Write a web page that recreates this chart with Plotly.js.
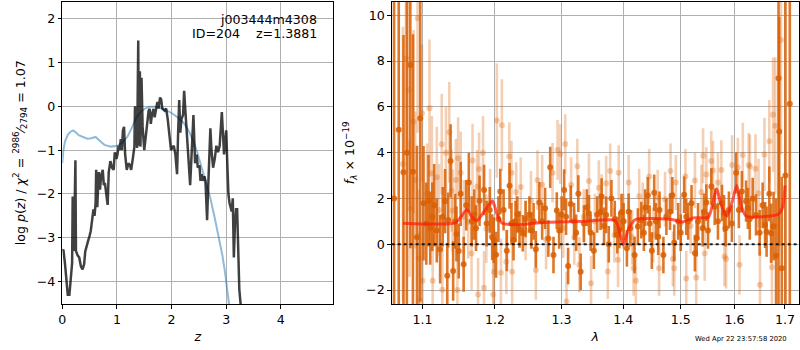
<!DOCTYPE html>
<html>
<head>
<meta charset="utf-8">
<script src="https://cdn.plot.ly/plotly-3.0.1.min.js"></script>
<style>html,body{margin:0;padding:0;background:#fff;}#chart{width:800px;height:350px;}</style>
</head>
<body>
<div id="chart"></div>
<script>
// ---------- Left panel: log p(z) ----------
const pzZ = [0.00,0.02,0.05,0.08,0.10,0.13,0.16,0.18,0.19,0.20,0.21,0.22,0.23,0.24,0.25,0.28,0.31,0.34,0.37,0.40,0.42,0.45,0.47,0.50,0.52,0.55,0.57,0.59,0.61,0.62,0.64,0.66,0.67,0.69,0.71,0.74,0.76,0.78,0.80,0.83,0.85,0.88,0.91,0.94,0.96,0.99,1.01,1.03,1.05,1.07,1.09,1.11,1.13,1.15,1.18,1.21,1.24,1.26,1.29,1.32,1.33,1.35,1.37,1.39,1.40,1.42,1.43,1.45,1.47,1.50,1.53,1.56,1.58,1.60,1.62,1.64,1.67,1.69,1.72,1.74,1.76,1.78,1.79,1.81,1.83,1.87,1.90,1.93,1.96,1.99,2.01,2.04,2.07,2.10,2.12,2.14,2.16,2.18,2.21,2.23,2.25,2.28,2.30,2.34,2.37,2.40,2.43,2.46,2.48,2.51,2.53,2.55,2.57,2.60,2.62,2.65,2.67,2.69,2.71,2.73,2.76,2.79,2.82,2.85,2.88,2.92,2.94,2.96,2.98,3.00,3.02,3.04,3.06,3.08,3.10,3.12,3.14,3.16,3.18,3.20,3.22,3.24,3.27,3.30];
const pzLog = [-3.3,-3.27,-3.6,-4.1,-4.3,-4.3,-3.9,-3.57,-2.06,-2.9,-2.2,-3.3,-2.0,-1.23,-3.3,-3.4,-3.45,-3.65,-3.72,-3.6,-3.31,-3.2,-3.08,-2.95,-2.85,-2.55,-2.35,-2.5,-2.2,-1.45,-2.3,-1.7,-1.5,-1.9,-1.6,-1.45,-1.8,-1.75,-1.95,-2.25,-1.5,-1.25,-1.4,-1.45,-1.05,-1.2,-1.1,-0.9,-1.0,-0.75,-1.0,-0.55,-0.47,-1.1,-1.45,-1.3,-1.35,-1.45,-1.2,-0.92,0.0,-0.6,-0.95,1.5,-0.9,0.8,-0.92,0.65,-0.47,-1.0,-0.6,-0.3,-0.1,-0.06,-0.4,-0.2,-0.06,-0.25,-0.05,0.1,-0.05,0.08,0.2,0.15,-0.05,-0.1,-0.05,-0.3,-0.7,-1.0,-0.95,-0.9,-1.1,-1.55,-0.6,0.14,-0.6,-0.3,-0.2,0.35,-0.05,-0.7,-1.2,-1.8,-1.0,-0.2,-1.3,-1.1,-1.4,-1.35,-1.7,-1.55,-1.7,-1.6,-1.7,-2.6,-1.85,-1.2,-0.5,-1.0,-1.4,-1.2,-0.9,-1.05,-0.9,-0.13,-0.8,-1.1,-0.8,-0.55,-1.3,-2.0,-2.2,-2.3,-2.4,-2.1,-3.45,-2.7,-2.35,-2.35,-3.2,-4.18,-4.6,-5.0];
const priorZ = [0.00,0.02,0.05,0.10,0.15,0.20,0.25,0.30,0.38,0.46,0.53,0.61,0.68,0.77,0.89,1.01,1.10,1.19,1.27,1.34,1.40,1.46,1.53,1.60,1.70,1.80,1.90,2.02,2.12,2.23,2.31,2.39,2.47,2.55,2.63,2.71,2.79,2.87,2.93,2.98,3.06,3.12];
const priorLog = [-1.3,-1.0,-0.8,-0.65,-0.58,-0.55,-0.6,-0.66,-0.7,-0.74,-0.73,-0.7,-0.78,-0.88,-0.92,-0.9,-0.82,-0.7,-0.5,-0.3,-0.18,-0.1,-0.04,-0.01,-0.01,-0.04,-0.09,-0.17,-0.26,-0.39,-0.55,-0.77,-1.05,-1.4,-1.75,-2.1,-2.55,-3.0,-3.4,-3.8,-4.6,-5.2];

// ---------- Right panel: spectrum ----------
const darkLam = [1.063,1.069,1.0751,1.0795,1.0840,1.0874,1.0927,1.0970,1.1013,1.1050,1.1079,1.1102,1.1130,1.1155,1.1190,1.1235,1.1270,1.1302,1.1332,1.1345,1.1377,1.1412,1.1440,1.1458,1.1489,1.1516,1.1557,1.1593,1.1629,1.1670,1.1706,1.1730,1.1780,1.1844,1.1880,1.1925,1.1960,1.1983,1.2016,1.2050,1.2077,1.2125,1.2172,1.2212,1.2240,1.2270,1.2300,1.2327,1.2359,1.2408,1.2450,1.2507,1.2537,1.2570,1.2604,1.2657,1.2700,1.2745,1.2795,1.2823,1.2874,1.2925,1.2962,1.3000,1.3040,1.3070,1.3102,1.3143,1.3196,1.3230,1.3264,1.3301,1.3354,1.3400,1.3434,1.3462,1.3514,1.3568,1.3623,1.3640,1.3680,1.3715,1.3758,1.3802,1.3857,1.3900,1.3934,1.3970,1.4005,1.4061,1.4090,1.4118,1.4191,1.4247,1.4305,1.4350,1.4373,1.4418,1.4450,1.4488,1.4530,1.4560,1.4600,1.4623,1.4691,1.4744,1.4808,1.4850,1.4884,1.4955,1.5000,1.5062,1.5100,1.5135,1.5196,1.5258,1.5290,1.5316,1.5400,1.5426,1.5469,1.5500,1.5562,1.5625,1.5686,1.5762,1.5800,1.5832,1.5894,1.5951,1.6033,1.6085,1.6143,1.6225,1.6260,1.6297,1.6355,1.6420,1.6492,1.6551,1.6600,1.6630,1.6684,1.6720,1.6770,1.6820,1.6870,1.6884,1.6936,1.7011,1.7100];
const darkFlux = [2.0,5.0,3.14,4.0,7.83,3.17,0.3,5.5,1.79,0.9,1.9,0.7,1.2,1.7,0.6,-0.22,1.2,1.88,-1.38,1.06,3.64,-1.17,1.0,0.45,-0.3,2.2,-0.87,1.7,2.7,1.0,1.3,0.7,1.9,2.37,0.9,1.5,0.31,0.18,-0.46,1.1,2.3,1.5,-0.28,2.55,0.9,0.19,1.0,1.3,0.65,0.48,1.1,1.3,0.6,1.0,-0.22,1.82,1.0,1.57,0.25,3.36,-0.47,1.47,0.6,1.3,2.37,1.2,-0.95,1.76,1.0,0.5,2.21,-1.2,0.9,1.6,1.35,0.5,-0.28,1.3,1.42,2.08,0.8,1.28,0.0,2.0,1.1,0.4,0.62,1.4,1.0,-0.18,1.42,0.7,-0.47,0.77,1.05,0.5,1.6,2.14,0.9,-0.28,2.25,1.0,0.33,1.5,-0.47,1.2,1.42,2.14,0.06,1.0,0.5,2.16,1.2,1.0,1.79,-0.39,0.26,1.0,0.7,1.42,1.82,0.6,2.52,1.64,1.0,1.8,1.35,0.7,1.5,0.9,3.12,1.5,2.3,1.88,1.57,1.1,2.0,1.28,0.5,1.7,0.84,0.55,2.2,0.48,0.79,-0.5,7.25,4.92,-1.05,3.0,6.13];
const darkErr = [15,12,6,9,8,6,4,8,2.5,1.8,2.0,1.6,1.5,1.8,1.4,1.5,1.3,1.4,1.4,1.2,1.6,1.3,1.2,1.2,1.2,1.4,1.2,1.1,1.3,1.1,1.1,1.0,1.1,1.1,1.0,1.0,1.0,1.0,1.0,1.0,1.0,0.9,0.9,1.0,0.9,0.9,0.9,0.8,0.8,0.8,0.8,0.8,0.8,0.8,0.8,0.9,0.8,0.9,0.8,0.9,0.8,0.8,0.8,0.8,0.9,0.8,0.8,0.8,0.8,0.8,0.8,0.8,0.8,0.8,0.8,0.8,0.8,0.8,0.8,0.8,0.8,0.8,0.8,0.8,0.8,0.8,0.8,0.8,0.8,0.8,0.8,0.8,0.8,0.8,0.8,0.8,0.8,0.8,0.8,0.8,0.8,0.8,0.8,0.8,0.8,0.8,0.8,0.8,0.8,0.8,0.8,0.8,0.8,0.8,0.8,0.8,0.8,0.8,0.8,0.8,0.8,0.8,0.8,0.8,0.8,0.8,0.8,0.8,0.8,0.8,0.9,0.8,0.9,0.9,0.9,0.9,0.9,0.9,1.0,1.0,1.0,1.1,1.2,1.3,1.5,2.5,12,5,4,12,12];

const lightLam = [1.0744,1.0783,1.0818,1.0830,1.0883,1.0905,1.0935,1.0948,1.0961,1.0992,1.1000,1.1060,1.1092,1.1124,1.1135,1.1190,1.1220,1.1257,1.1265,1.1314,1.1359,1.1391,1.1404,1.1449,1.1470,1.1480,1.1516,1.1560,1.1621,1.1667,1.1681,1.1745,1.1759,1.1773,1.1829,1.1843,1.1876,1.1930,1.1975,1.1984,1.2027,1.2086,1.2100,1.2165,1.2208,1.2240,1.2250,1.2310,1.2378,1.2450,1.2530,1.2604,1.2629,1.2700,1.2760,1.2860,1.2937,1.2979,1.3025,1.3057,1.3077,1.3150,1.3200,1.3248,1.3280,1.3350,1.3434,1.3468,1.3530,1.3595,1.3640,1.3715,1.3742,1.3781,1.3850,1.3912,1.3923,1.4000,1.4090,1.4150,1.4174,1.4213,1.4270,1.4330,1.4442,1.4510,1.4590,1.4615,1.4720,1.4818,1.4860,1.4884,1.4912,1.5000,1.5085,1.5100,1.5180,1.5258,1.5282,1.5377,1.5408,1.5439,1.5469,1.5560,1.5593,1.5686,1.5750,1.5810,1.5840,1.5955,1.6065,1.6098,1.6162,1.6276,1.6300,1.6410,1.6470,1.6498,1.6587,1.6684,1.6736,1.6760,1.6804,1.6920];
const lightFlux = [3.5,8.12,6.74,1.57,5.35,2.8,9.87,-0.61,-2.45,5.72,-1.6,2.2,5.94,3.1,-1.6,2.93,1.5,4.37,-1.99,4.0,4.89,2.34,1.47,2.8,-2.0,3.75,3.12,1.2,0.97,-0.4,3.66,2.52,-2.2,3.28,4.0,-1.9,0.68,1.8,-2.2,-1.2,5.4,-1.25,5.2,-0.77,3.83,3.12,-1.2,2.28,2.5,0.6,1.9,-1.12,2.8,2.6,0.2,3.12,4.12,3.94,0.7,4.38,-2.5,2.6,0.3,3.41,-0.9,1.2,2.76,-1.7,1.0,2.47,1.86,2.66,-1.19,3.2,0.4,-0.68,3.12,1.0,2.7,0.3,-1.05,-1.6,2.1,1.5,2.96,0.4,2.05,-1.05,1.96,3.2,-0.64,-1.05,2.7,0.9,2.96,-1.5,0.8,2.78,-1.45,2.27,3.86,-0.4,3.04,3.64,3.22,2.7,3.24,-0.54,-0.64,3.46,3.35,-0.9,3.9,3.46,3.39,3.3,2.23,-1.77,3.92,4.5,-1.0,5.65,5.17,8.92];
const lightErr = [6,4,5,3,4,3,5,3,3,3,2.5,2.2,3.0,2.5,2.0,2.2,2.0,2.2,2.0,2.0,2.2,1.8,1.8,1.8,1.8,1.8,1.8,1.6,1.6,1.6,1.6,1.6,1.6,1.6,1.6,1.6,1.5,1.5,1.6,1.5,2.5,1.5,2.0,1.4,1.5,1.4,1.4,1.3,1.3,1.3,1.3,1.3,1.3,1.3,1.3,1.3,1.3,1.3,1.3,1.3,1.3,1.2,1.2,1.2,1.2,1.2,1.2,1.2,1.2,1.2,1.2,1.2,1.2,1.2,1.2,1.2,1.2,1.2,1.2,1.2,1.2,1.2,1.2,1.2,1.2,1.2,1.2,1.2,1.2,1.2,1.2,1.2,1.2,1.2,1.2,1.2,1.2,1.2,1.2,1.2,1.2,1.2,1.2,1.3,1.3,1.3,1.3,1.3,1.3,1.3,1.3,1.3,1.4,1.4,1.4,1.5,1.5,1.5,1.6,1.8,2.0,2.5,3.0,5];

const modelLam = [1.0744,1.1440,1.1520,1.1602,1.1670,1.1742,1.1850,1.1964,1.2030,1.2100,1.2320,1.2720,1.3345,1.3863,1.3930,1.4002,1.4080,1.4200,1.4868,1.5018,1.5229,1.5506,1.5580,1.5663,1.5750,1.5852,1.5950,1.6044,1.6140,1.6237,1.6866,1.6950,1.7002];
const modelFlux = [0.92,0.93,1.2,1.52,1.2,1.03,1.45,1.9,1.3,0.93,0.85,0.95,1.0,1.04,0.6,-0.03,0.6,1.07,1.07,0.96,1.15,1.18,1.7,2.42,1.7,1.22,1.8,2.56,1.6,1.22,1.31,1.6,2.56];

const xTicksRight = [1.1,1.2,1.3,1.4,1.5,1.6,1.7];

const FONT = 'DejaVu Sans, sans-serif';
const FS = 12.6;
const darkC = 'rgba(217,95,2,0.85)';
const lightC = 'rgba(217,95,2,0.3)';

const traces = [
  {x: priorZ, y: priorLog, xaxis:'x', yaxis:'y', mode:'lines', line:{color:'rgba(31,119,180,0.5)', width:2}, hoverinfo:'skip'},
  {x: pzZ, y: pzLog, xaxis:'x', yaxis:'y', mode:'lines', line:{color:'rgba(0,0,0,0.75)', width:2.5}, hoverinfo:'skip'},
  {x: lightLam, y: lightFlux, xaxis:'x2', yaxis:'y2', mode:'markers', marker:{color:lightC, size:6},
   error_y:{type:'data', array:lightErr, visible:true, color:lightC, thickness:2.6, width:0}},
  {x: darkLam, y: darkFlux, xaxis:'x2', yaxis:'y2', mode:'markers', marker:{color:darkC, size:6},
   error_y:{type:'data', array:darkErr, visible:true, color:darkC, thickness:2.6, width:0}},
  {x: modelLam, y: modelFlux, xaxis:'x2', yaxis:'y2', mode:'lines', line:{color:'rgba(255,25,10,0.7)', width:3, shape:'spline', smoothing:0.6}}
];

const axBase = {
  showgrid:true, gridcolor:'#b0b0b0', gridwidth:1, zeroline:false,
  showline:true, linecolor:'#000', linewidth:1, mirror:true,
  ticks:'outside', ticklen:3.5, tickwidth:1, tickcolor:'#000',
  tickfont:{family:FONT, size:FS, color:'#000'}
};

const yDom = [46/350, 348.5/350];
const layout = {
  width:800, height:350,
  margin:{l:0, r:0, t:0, b:0},
  paper_bgcolor:'#fff', plot_bgcolor:'#fff',
  showlegend:false,
  font:{family:FONT, color:'#000'},
  xaxis: Object.assign({}, axBase, {domain:[62.3/800, 333.3/800], range:[0,4.96], tick0:0, dtick:1, anchor:'y',
    title:{text:'<i>z</i>', font:{family:FONT, size:FS}, standoff:6}}),
  yaxis: Object.assign({}, axBase, {domain:yDom, range:[-4.51,2.39], tick0:0, dtick:1, anchor:'x',
    title:{text:'log <i>p</i>(<i>z</i>) / <i>χ</i><sup>2</sup> = <sup>2986</sup>⁄<sub>2794</sub> = 1.07', font:{family:FONT, size:FS}, standoff:8}}),
  xaxis2: Object.assign({}, axBase, {domain:[391.7/800, 799/800], type:'log', range:[Math.log10(1.06), Math.log10(1.729)],
    tickmode:'array', tickvals:xTicksRight, ticktext:xTicksRight.map(v=>v.toFixed(1)), anchor:'y2',
    title:{text:'<i>λ</i>', font:{family:FONT, size:FS}, standoff:6}}),
  yaxis2: Object.assign({}, axBase, {domain:yDom, range:[-2.61,10.6], tick0:0, dtick:2, anchor:'x2',
    title:{text:'<i>f</i><sub><i>λ</i></sub> × 10<sup>−19</sup>', font:{family:FONT, size:FS}, standoff:8}}),
  shapes:[
    {type:'line', xref:'x2 domain', yref:'y2', x0:0, x1:1, y0:0, y1:0, layer:'above',
     line:{color:'rgba(0,0,0,0.85)', width:2, dash:'dot'}}
  ],
  annotations:[
    {xref:'x domain', yref:'y domain', x:0.946, y:0.940, xanchor:'right', yanchor:'middle', showarrow:false,
     text:'j003444m4308', font:{family:FONT, size:FS, color:'#000'}},
    {xref:'x domain', yref:'y domain', x:0.946, y:0.894, xanchor:'right', yanchor:'middle', showarrow:false,
     text:'ID=204\u00a0\u00a0\u00a0\u00a0z=1.3881', font:{family:FONT, size:FS, color:'#000'}},
    {xref:'paper', yref:'paper', x:740.5/800, y:11/350, xanchor:'center', yanchor:'middle', showarrow:false,
     text:'Wed Apr 22 23:57:58 2020', font:{family:FONT, size:6.8, color:'#000'}}
  ]
};

Plotly.newPlot('chart', traces, layout, {staticPlot:true, displayModeBar:false});
</script>
</body>
</html>
